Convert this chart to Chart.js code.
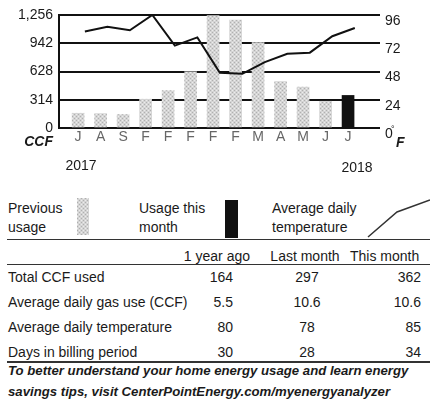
<!DOCTYPE html>
<html>
<head>
<meta charset="utf-8">
<script src="https://cdn.jsdelivr.net/npm/chart.js@4.4.1/dist/chart.umd.min.js"></script>
<style>
body { margin: 0; background: #fff; font-family: "Liberation Sans", Arial, sans-serif; color: #1a1a1a; }
#wrap { position: relative; width: 430px; height: 405px; overflow: hidden; }
#usageChart { position: absolute; left: 0; top: 0; }
.t { position: absolute; font-size: 14px; line-height: 16px; white-space: nowrap; }
.leg { position: absolute; font-size: 14px; line-height: 19px; top: 199px; }
.r { text-align: right; }
.c { text-align: center; }
.rule { position: absolute; left: 7px; width: 423px; height: 0; border-top: 1.5px solid #333; }
.swatch { position: absolute; }
.note { position: absolute; left: 8px; font-size: 13.2px; line-height: 16px; font-weight: bold; font-style: italic; white-space: nowrap; }
</style>
</head>
<body>
<div id="wrap">
  <canvas id="usageChart" width="430" height="180"></canvas>

  <div class="leg" style="left:8px">Previous<br>usage</div>
  <div class="swatch" id="prevSwatch" style="left:77px;top:198px;width:12px;height:37px"></div>
  <div class="leg" style="left:139px">Usage this<br>month</div>
  <div class="swatch" style="left:225px;top:200px;width:13px;height:38px;background:#111"></div>
  <div class="leg" style="left:272px">Average daily<br>temperature</div>
  <svg style="position:absolute;left:360px;top:195px" width="70" height="45">
    <polyline points="8,42 37,17 70,5" fill="none" stroke="#333" stroke-width="1.5"/>
  </svg>

  <div class="rule" style="top:239px"></div>
  <div class="rule" style="top:264px"></div>
  <div class="rule" style="top:361px;border-top-width:2px"></div>

  <div id="table"></div>

  <div class="note" style="top:363px">To better understand your home energy usage and learn energy</div>
  <div class="note" style="top:384px">savings tips, visit CenterPointEnergy.com/myenergyanalyzer</div>
</div>

<script>
// Data
const months = ['J', 'A', 'S', 'F', 'F', 'F', 'F', 'F', 'M', 'A', 'M', 'J', 'J'];
const usage = [164, 160, 150, 320, 416, 625, 1250, 1200, 950, 516, 455, 297, 362];
const temps = [82, 86, 83, 96, 70, 77, 47, 46, 56, 63, 64, 78, 85];
const ccfTicks = [0, 314, 628, 942, 1256];
const tempTicks = [0, 24, 48, 72, 96];

const tableHeads = ['1 year ago', 'Last month', 'This month'];
const rowNames = ['Total CCF used', 'Average daily gas use (CCF)', 'Average daily temperature', 'Days in billing period'];
const yearAgo = ['164', '5.5', '80', '30'];
const lastMonth = ['297', '10.6', '78', '28'];
const thisMonth = ['362', '10.6', '85', '34'];
// End data

const tempShift = 0.3;

function stipple() {
    const c = document.createElement('canvas');
    c.width = 4;
    c.height = 4;
    const g = c.getContext('2d');
    g.fillStyle = '#d4d4d4';
    g.fillRect(0, 0, 4, 4);
    g.fillStyle = '#b0b0b0';
    g.fillRect(0, 0, 1, 1);
    g.fillRect(2, 2, 1, 1);
    g.fillStyle = '#ececec';
    g.fillRect(2, 0, 1, 1);
    g.fillRect(0, 2, 1, 1);
    return c;
}
const patternCanvas = stipple();
const barPattern = document.getElementById('usageChart').getContext('2d').createPattern(patternCanvas, 'repeat');
document.getElementById('prevSwatch').style.background = 'url(' + patternCanvas.toDataURL() + ')';

// table below the chart
const table = document.getElementById('table');
function addText(text, style, cls) {
    const d = document.createElement('div');
    d.className = 't ' + (cls || '');
    d.textContent = text;
    d.style.cssText = style;
    table.appendChild(d);
}
addText(tableHeads[0], 'left:150px;width:100px;top:248px', 'r');
addText(tableHeads[1], 'left:257px;width:96px;top:248px', 'c');
addText(tableHeads[2], 'left:350px;top:248px');
rowNames.forEach((name, i) => {
    const top = 269 + i * 25;
    addText(name, 'left:8px;top:' + top + 'px');
    addText(yearAgo[i], 'left:173px;width:60px;top:' + top + 'px', 'r');
    addText(lastMonth[i], 'left:277px;width:60px;top:' + top + 'px', 'c');
    addText(thisMonth[i], 'left:361px;width:60px;top:' + top + 'px', 'r');
});

const extraLabels = {
    id: 'extraLabels',
    afterDraw(chart) {
        const ctx = chart.ctx;
        ctx.save();
        ctx.fillStyle = '#1a1a1a';
        ctx.textBaseline = 'middle';
        ctx.font = 'italic bold 14px "Liberation Sans", Arial';
        ctx.textAlign = 'right';
        ctx.fillText('CCF', 53, 142);
        ctx.textAlign = 'left';
        ctx.fillText('F', 396, 143);
        ctx.font = '9px "Liberation Sans", Arial';
        ctx.fillText('°', 391, 130);
        ctx.font = '14px "Liberation Sans", Arial';
        ctx.textAlign = 'center';
        ctx.fillText('2017', 81, 166);
        ctx.fillText('2018', 357, 168);
        ctx.restore();
    }
};

new Chart(document.getElementById('usageChart'), {
    data: {
        datasets: [{
            type: 'line',
            label: 'Average daily temperature',
            data: temps.map((t, i) => ({ x: i + tempShift, y: t })),
            yAxisID: 'yTemp',
            borderColor: '#111',
            borderWidth: 2,
            pointRadius: 0,
            tension: 0,
            order: 0
        }, {
            type: 'bar',
            label: 'Usage',
            data: usage.map((v, i) => ({ x: i, y: v })),
            yAxisID: 'y',
            backgroundColor: usage.map((v, i) => i === usage.length - 1 ? '#111' : barPattern),
            barThickness: 12,
            order: 1
        }]
    },
    options: {
        responsive: false,
        animation: false,
        layout: { padding: { top: 15, left: 0, right: 0, bottom: 0 } },
        plugins: { legend: { display: false }, tooltip: { enabled: false } },
        scales: {
            x: {
                type: 'linear',
                offset: false,
                min: -0.85,
                max: 13.42,
                afterBuildTicks: axis => { axis.ticks = months.map((m, i) => ({ value: i })); },
                afterFit: axis => { axis.height = 52; },
                grid: { display: false, drawTicks: false },
                border: { display: false },
                ticks: {
                    autoSkip: false,
                    maxRotation: 0,
                    padding: 1,
                    color: '#666',
                    font: { family: '"Liberation Sans", Arial', size: 14 },
                    callback: value => months[value] || ''
                }
            },
            y: {
                position: 'left',
                min: 0,
                max: 1256,
                afterBuildTicks: axis => { axis.ticks = ccfTicks.map(v => ({ value: v })); },
                afterFit: axis => { axis.width = 59; },
                grid: { color: '#111', lineWidth: 2, drawTicks: false },
                border: { display: true, color: '#111', width: 2 },
                ticks: {
                    padding: 6,
                    color: '#1a1a1a',
                    font: { family: '"Liberation Sans", Arial', size: 14 },
                    callback: value => value.toLocaleString('en-US')
                }
            },
            yTemp: {
                position: 'right',
                min: 0,
                max: 96,
                afterBuildTicks: axis => { axis.ticks = tempTicks.map(v => ({ value: v })); },
                afterFit: axis => { axis.width = 50; },
                grid: { display: false, drawTicks: false },
                border: { display: false },
                ticks: {
                    padding: 5,
                    labelOffset: 6,
                    color: '#1a1a1a',
                    font: { family: '"Liberation Sans", Arial', size: 14 }
                }
            }
        }
    },
    plugins: [extraLabels]
});
</script>
</body>
</html>
